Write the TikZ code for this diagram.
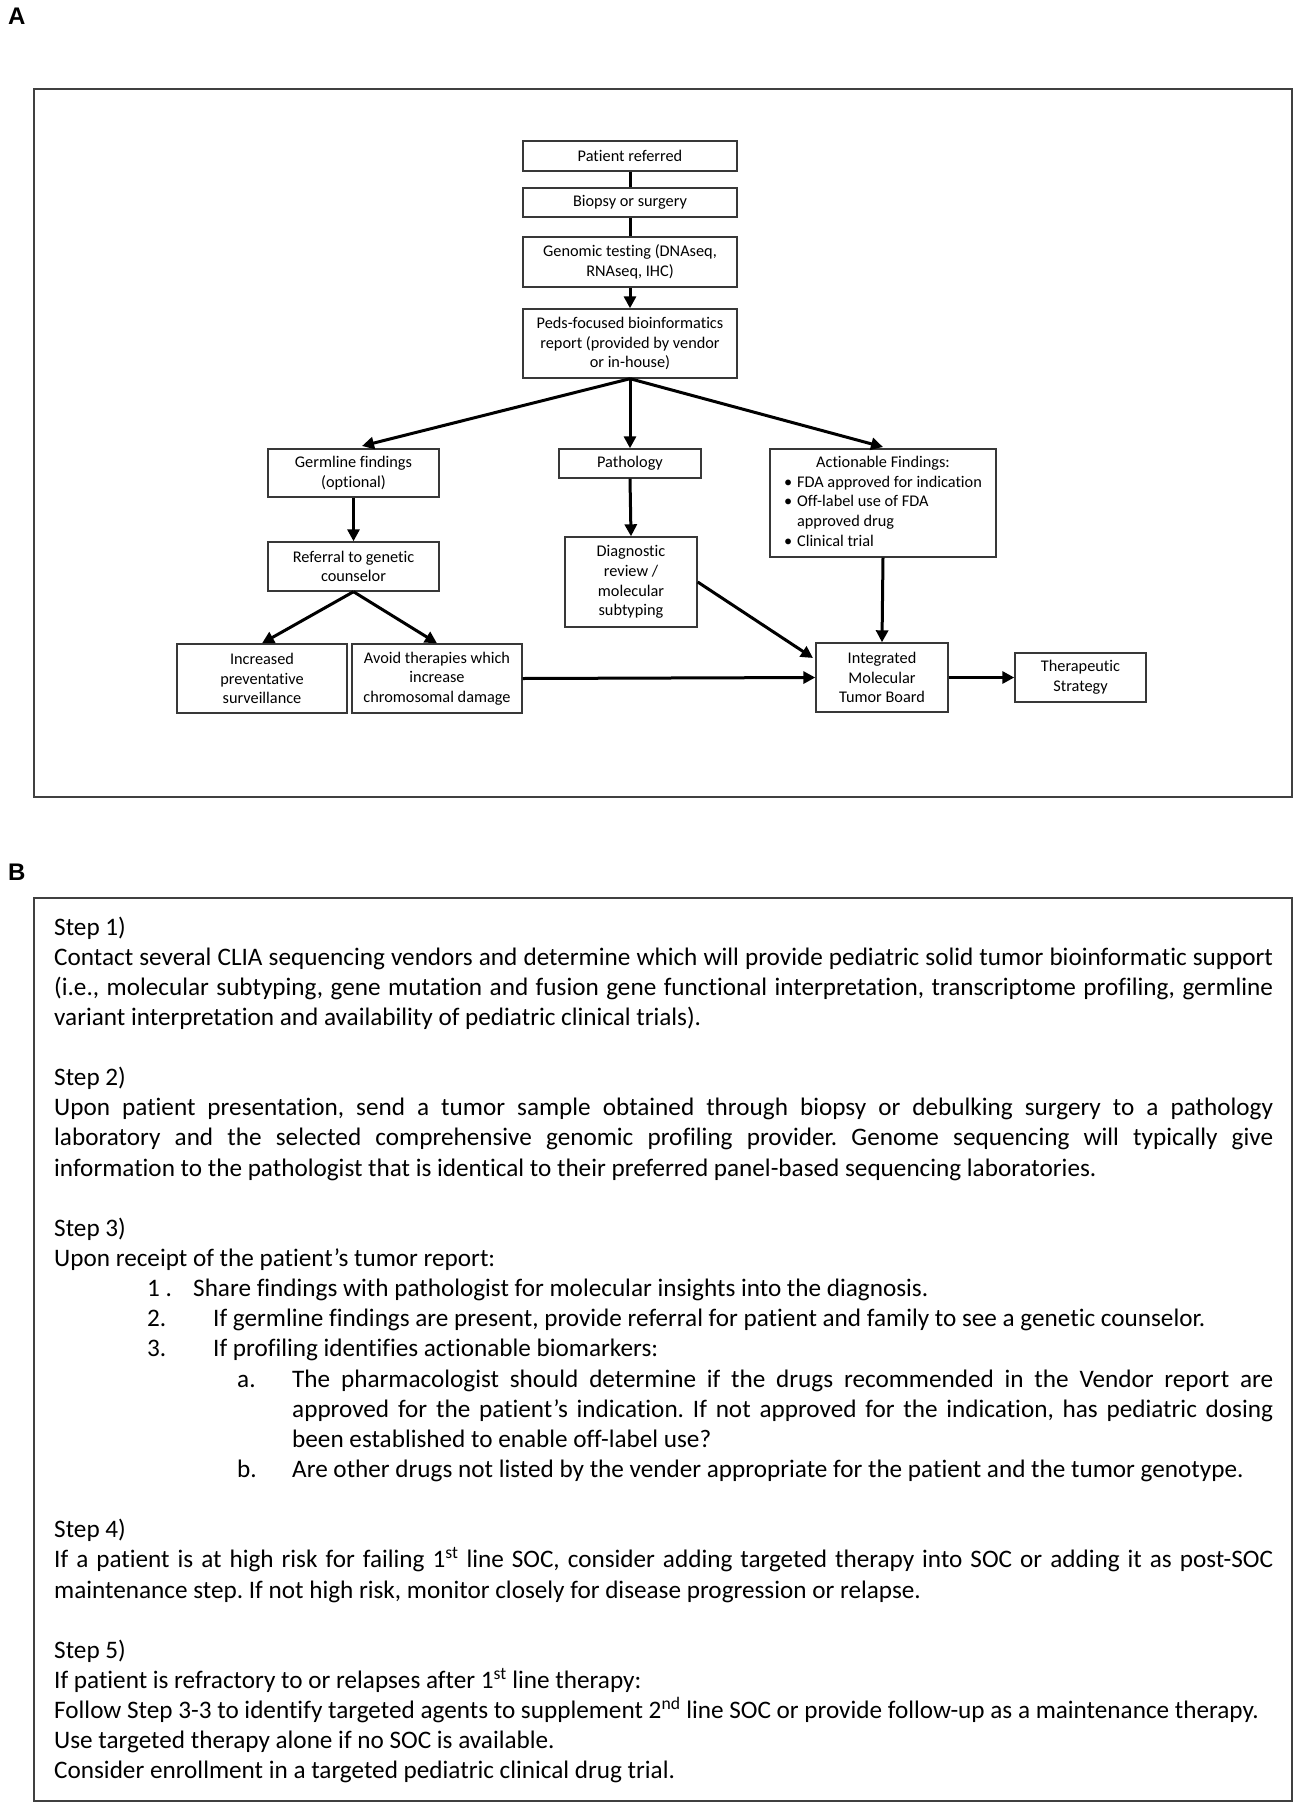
\documentclass[tikz,border=0pt]{standalone}
\usepackage{fontspec}
\setmainfont{Carlito}[Ligatures=NoCommon]
\newfontfamily\labfont{Liberation Sans}
\usetikzlibrary{arrows.meta}
\newcommand\fsmall{\fontsize{16.3}{19.6}\selectfont}
\newcommand\fbig{\fontsize{25.2}{30}\selectfont}
\tikzset{
  fbox/.style={draw=black!78, line width=1.4pt, inner sep=0pt, align=center, font=\fsmall},
  conn/.style={line width=3pt, black},
  arr/.style={conn, -{Triangle[length=12pt,width=12pt]}},
  frame/.style={draw=black!75, line width=2pt},
  txt/.style={anchor=base west, inner sep=0pt, font=\fbig},
  panel/.style={font=\labfont\bfseries\fontsize{24}{24}\selectfont, anchor=base west, inner sep=0pt}
}
\begin{document}
\frenchspacing
\begin{tikzpicture}[x=1pt,y=-1pt]
\useasboundingbox (0,0) rectangle (1299,1809);
% panel labels
\node[panel] (labA) at (8,25) {A};
\node[panel] (labB) at (8,880) {B};
% frames
\draw[frame] (34,89) rectangle (1292,797);
\draw[frame] (34,898) rectangle (1292,1801);

% flowchart boxes
\node[fbox, minimum width=214, minimum height=30] (pr) at (630,156) {Patient referred};
\node[fbox, minimum width=214, minimum height=29] (bs) at (630,202.5) {Biopsy or surgery};
\node[fbox, minimum width=214, minimum height=50] (gt) at (630,262) {Genomic testing (DNAseq,\\RNAseq, IHC)};
\node[fbox, minimum width=214, minimum height=69] (pf) at (630,343.5) {Peds-focused bioinformatics\\report (provided by vendor\\or in-house)};
\node[fbox, minimum width=171, minimum height=48] (gf) at (353.5,473) {Germline findings\\(optional)};
\node[fbox, minimum width=171, minimum height=49] (rg) at (353.5,566.5) {Referral to genetic\\counselor};
\node[fbox, minimum width=170, minimum height=69] (ip) at (262,678.5) {Increased\\preventative\\surveillance};
\node[fbox, minimum width=170, minimum height=69] (av) at (437,678.5) {Avoid therapies which\\increase\\chromosomal damage};
\node[fbox, minimum width=142, minimum height=29] (pa) at (630,463.5) {Pathology};
\node[fbox, minimum width=132, minimum height=90] (dr) at (631,582) {Diagnostic\\review /\\molecular\\subtyping};
\node[fbox, minimum width=226, minimum height=108] (af) at (883,503) {%
  \begin{tabular}{@{}p{13pt}@{}l@{}}
  \multicolumn{2}{@{}c@{}}{Actionable Findings:}\\
  \textbullet & FDA approved for indication\\
  \textbullet & Off-label use of FDA\\
   & approved drug\\
  \textbullet & Clinical trial
  \end{tabular}};
\node[fbox, minimum width=132, minimum height=69] (im) at (882,677.5) {Integrated\\Molecular\\Tumor Board};
\node[fbox, minimum width=131, minimum height=49] (ts) at (1080.5,677.5) {Therapeutic\\Strategy};

% connector end points
\coordinate (gfin) at (362,446);
\coordinate (afin) at (883,447);
\coordinate (imin) at (813,658);

% connectors
\draw[conn] (pr.south) -- (bs.north);
\draw[conn] (bs.south) -- (gt.north);
\draw[arr] (gt.south) -- (pf.north);
\draw[arr] (pf.south) -- (gfin);
\draw[arr] (pf.south) -- (pa.north);
\draw[arr] (pf.south) -- (afin);
\draw[arr] (gf.south) -- (rg.north);
\draw[arr] (rg.south) -- (ip.north);
\draw[arr] (rg.south) -- (av.north);
\draw[arr] (pa.south) -- (dr.north);
\draw[arr] (dr.east) -- (imin);
\draw[arr] (af.south) -- (im.north);
\draw[arr] (av.east) -- (im.west);
\draw[arr] (im.east) -- (ts.west);

% panel B text
\node[txt] (t0) at (54,{935+30.14*0}) {Step 1)};
\node[txt] (t1) at (54,{935+30.14*1}) {\makebox[1219pt][s]{Contact several CLIA sequencing vendors and determine which will provide pediatric solid tumor bioinformatic support}};
\node[txt] (t2) at (54,{935+30.14*2}) {\makebox[1219pt][s]{(i.e., molecular subtyping, gene mutation and fusion gene functional interpretation, transcriptome profiling, germline}};
\node[txt] (t3) at (54,{935+30.14*3}) {variant interpretation and availability of pediatric clinical trials).};
\node[txt] (t5) at (54,{935+30.14*5}) {Step 2)};
\node[txt] (t6) at (54,{935+30.14*6}) {\makebox[1219pt][s]{Upon patient presentation, send a tumor sample obtained through biopsy or debulking surgery to a pathology}};
\node[txt] (t7) at (54,{935+30.14*7}) {\makebox[1219pt][s]{laboratory and the selected comprehensive genomic profiling provider. Genome sequencing will typically give}};
\node[txt] (t8) at (54,{935+30.14*8}) {information to the pathologist that is identical to their preferred panel-based sequencing laboratories.};
\node[txt] (t10) at (54,{935+30.14*10}) {Step 3)};
\node[txt] (t11) at (54,{935+30.14*11}) {Upon receipt of the patient’s tumor report:};
\node[txt] (n12) at (147,{935+30.14*12}) {1 .};
\node[txt] (t12) at (193,{935+30.14*12}) {Share findings with pathologist for molecular insights into the diagnosis.};
\node[txt] (n13) at (147,{935+30.14*13}) {2.};
\node[txt] (t13) at (213,{935+30.14*13}) {If germline findings are present, provide referral for patient and family to see a genetic counselor.};
\node[txt] (n14) at (147,{935+30.14*14}) {3.};
\node[txt] (t14) at (213,{935+30.14*14}) {If profiling identifies actionable biomarkers:};
\node[txt] (n15) at (237,{935+30.14*15}) {a.};
\node[txt] (t15) at (292,{935+30.14*15}) {\makebox[981pt][s]{The pharmacologist should determine if the drugs recommended in the Vendor report are}};
\node[txt] (t16) at (292,{935+30.14*16}) {\makebox[981pt][s]{approved for the patient’s indication. If not approved for the indication, has pediatric dosing}};
\node[txt] (t17) at (292,{935+30.14*17}) {been established to enable off-label use?};
\node[txt] (n18) at (237,{935+30.14*18}) {b.};
\node[txt] (t18) at (292,{935+30.14*18}) {Are other drugs not listed by the vender appropriate for the patient and the tumor genotype.};
\node[txt] (t20) at (54,{935+30.14*20}) {Step 4)};
\node[txt] (t21) at (54,{935+30.14*21}) {\makebox[1219pt][s]{If a patient is at high risk for failing 1\textsuperscript{st} line SOC, consider adding targeted therapy into SOC or adding it as post-SOC}};
\node[txt] (t22) at (54,{935+30.14*22}) {maintenance step. If not high risk, monitor closely for disease progression or relapse.};
\node[txt] (t24) at (54,{935+30.14*24}) {Step 5)};
\node[txt] (t25) at (54,{935+30.14*25}) {If patient is refractory to or relapses after 1\textsuperscript{st} line therapy:};
\node[txt] (t26) at (54,{935+30.14*26}) {Follow Step 3-3 to identify targeted agents to supplement 2\textsuperscript{nd} line SOC or provide follow-up as a maintenance therapy.};
\node[txt] (t27) at (54,{935+30.14*27}) {Use targeted therapy alone if no SOC is available.};
\node[txt] (t28) at (54,{935+30.14*28}) {Consider enrollment in a targeted pediatric clinical drug trial.};
\end{tikzpicture}
\end{document}
